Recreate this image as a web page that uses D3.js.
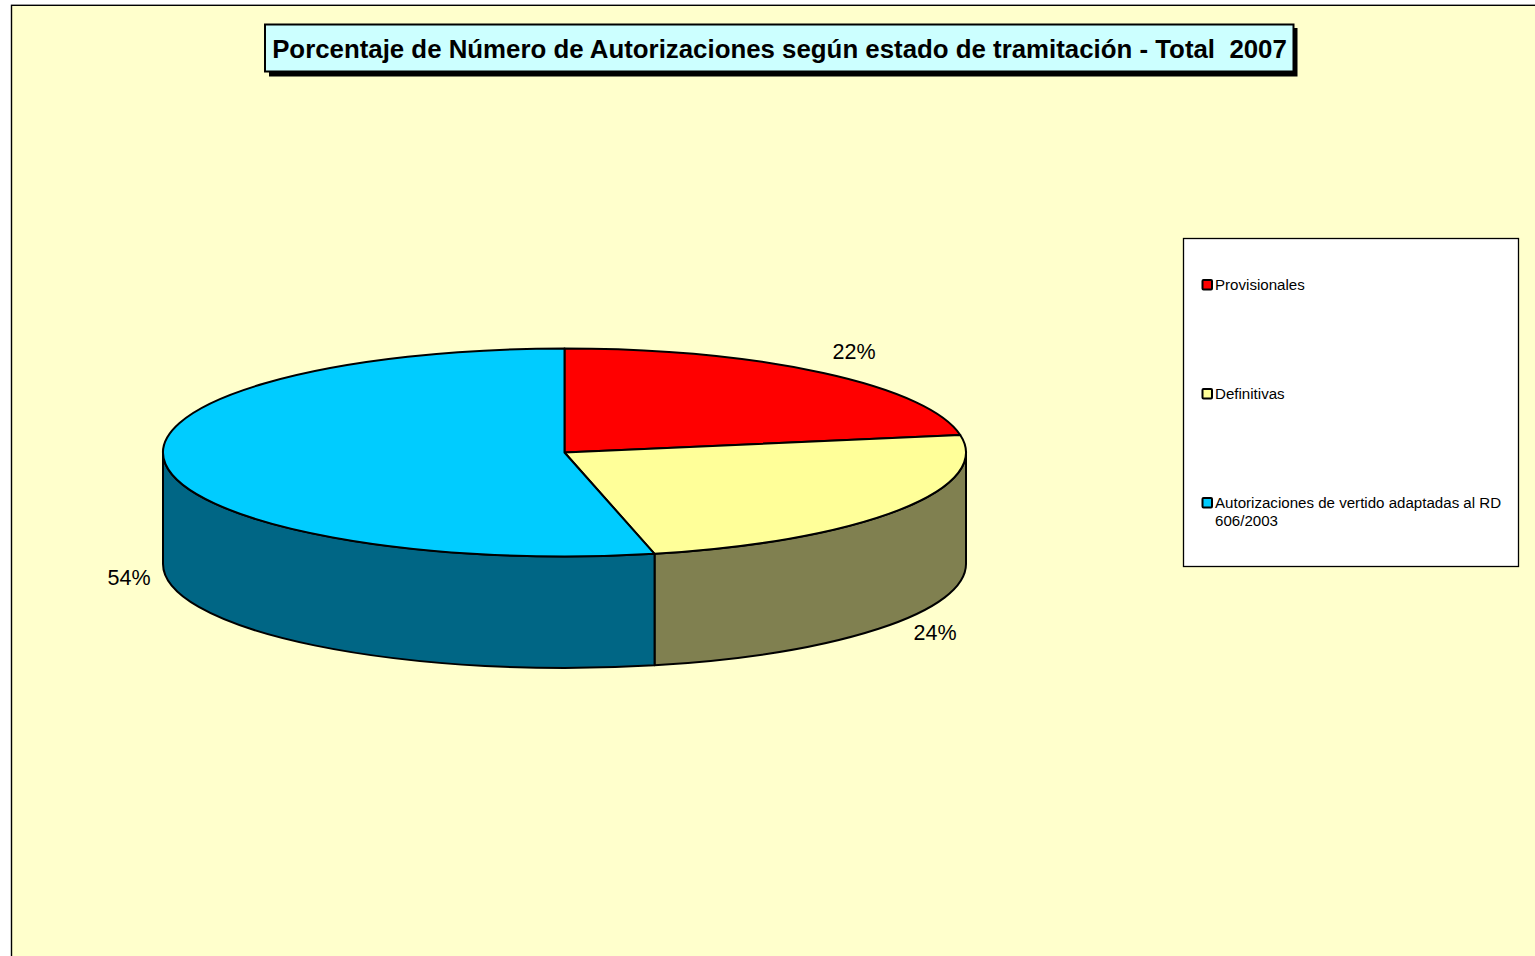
<!DOCTYPE html>
<html>
<head>
<meta charset="utf-8">
<script src="https://cdn.jsdelivr.net/npm/d3@7"></script>
<style>
html, body { margin: 0; padding: 0; background: #fff; overflow: hidden; }
svg { display: block; }
text { font-family: "Liberation Sans", Arial, sans-serif; fill: #000; }
</style>
</head>
<body>
<svg id="chart" width="1535" height="956"></svg>
<script>
// estado de tramitacion
var categories = ["Provisionales", "Definitivas", "Autorizaciones de vertido adaptadas al RD 606/2003"];
var legendLines = [["Provisionales"], ["Definitivas"], ["Autorizaciones de vertido adaptadas al RD", "606/2003"]];
var values = [22.3, 24.1, 53.6];
var titleText = "Porcentaje de Número de Autorizaciones según estado de tramitación - Total  2007";

// colours
var topColors = ["#ff0000", "#ffff99", "#00ccff"];
var sideColors = ["#800000", "#808050", "#006685"];

var svg = d3.select("#chart");

// pie geometry
var cx = 564.5, cy = 452.5, rx = 401.5, ry = 104, depth = 111.5;

var pie = d3.pie().sort(null).value(function(d) { return d; });
var arcs = pie(values);

function px(a) { return cx + rx * Math.sin(a); }
function py(a) { return cy - ry * Math.cos(a); }

// top slice, as an elliptical wedge
function wedge(a0, a1) {
    var big = a1 - a0 > Math.PI ? 1 : 0;
    return "M" + cx + "," + cy + "L" + px(a0) + "," + py(a0) +
        "A" + rx + "," + ry + " 0 " + big + " 1 " + px(a1) + "," + py(a1) + "Z";
}

// visible wall between two angles
function wall(a0, a1) {
    return "M" + px(a0) + "," + py(a0) +
        "A" + rx + "," + ry + " 0 0 1 " + px(a1) + "," + py(a1) +
        "L" + px(a1) + "," + (py(a1) + depth) +
        "A" + rx + "," + ry + " 0 0 0 " + px(a0) + "," + (py(a0) + depth) + "Z";
}

// background and frame (runs off the page on the right and bottom)
svg.append("rect")
    .attr("x", 11.5).attr("y", 5.3)
    .attr("width", 1600).attr("height", 1100)
    .attr("fill", "#ffffcc")
    .attr("stroke", "#000")
    .attr("stroke-width", 1.4);

// title
var titleG = svg.append("g");
titleG.append("rect")
    .attr("x", 269).attr("y", 28)
    .attr("width", 1028.5).attr("height", 48.5)
    .attr("fill", "#000");
titleG.append("rect")
    .attr("x", 265).attr("y", 24.5)
    .attr("width", 1028.5).attr("height", 47)
    .attr("fill", "#ccffff")
    .attr("stroke", "#000")
    .attr("stroke-width", 2);
titleG.append("text")
    .attr("x", 779.5).attr("y", 57.5)
    .attr("text-anchor", "middle")
    .attr("font-size", 25.83)
    .attr("font-weight", "bold")
    .attr("xml:space", "preserve")
    .style("white-space", "pre")
    .text(titleText);

// walls, only the front half of the cake shows
var front0 = Math.PI / 2, front1 = Math.PI * 1.5;
var walls = svg.append("g");
arcs.forEach(function(d, i) {
    var a0 = Math.max(d.startAngle, front0), a1 = Math.min(d.endAngle, front1);
    if (a1 <= a0) return;
    walls.append("path")
        .attr("d", wall(a0, a1))
        .attr("fill", sideColors[i])
        .attr("stroke", "#000")
        .attr("stroke-width", 2)
        .attr("stroke-linejoin", "round");
});

// top of the pie
svg.append("g").selectAll("path")
    .data(arcs)
    .enter()
    .append("path")
    .attr("d", function(d) { return wedge(d.startAngle, d.endAngle); })
    .attr("fill", function(d, i) { return topColors[i]; })
    .attr("stroke", "#000")
    .attr("stroke-width", 2)
    .attr("stroke-linejoin", "round");

// data labels
var labelFmt = d3.format(".0f");
var labelPos = [[854, 359], [935, 640], [129, 585]];
svg.append("g").selectAll("text")
    .data(arcs)
    .enter()
    .append("text")
    .attr("x", function(d, i) { return labelPos[i][0]; })
    .attr("y", function(d, i) { return labelPos[i][1]; })
    .attr("text-anchor", "middle")
    .attr("font-size", 21.5)
    .text(function(d) { return labelFmt(d.value) + "%"; });

// legend
var legend = svg.append("g");
legend.append("rect")
    .attr("x", 1183.5).attr("y", 238.5)
    .attr("width", 335).attr("height", 328)
    .attr("fill", "#fff")
    .attr("stroke", "#000")
    .attr("stroke-width", 1.3);

var legendY = d3.scalePoint().domain(categories).range([284.5, 502.5]);

var items = legend.selectAll("g.item")
    .data(categories)
    .enter()
    .append("g")
    .attr("class", "item")
    .attr("transform", function(d) { return "translate(1202," + legendY(d) + ")"; });

items.append("rect")
    .attr("x", 0.5).attr("y", -4.5)
    .attr("width", 9.5).attr("height", 9.5)
    .attr("rx", 1)
    .attr("fill", function(d, i) { return topColors[i]; })
    .attr("stroke", "#000")
    .attr("stroke-width", 2);

items.each(function(d, i) {
    d3.select(this).selectAll("text")
        .data(legendLines[i])
        .enter()
        .append("text")
        .attr("x", 13)
        .attr("y", function(t, j) { return 5.3 + j * 18; })
        .attr("font-size", 15.1)
        .text(function(t) { return t; });
});
</script>
</body>
</html>
